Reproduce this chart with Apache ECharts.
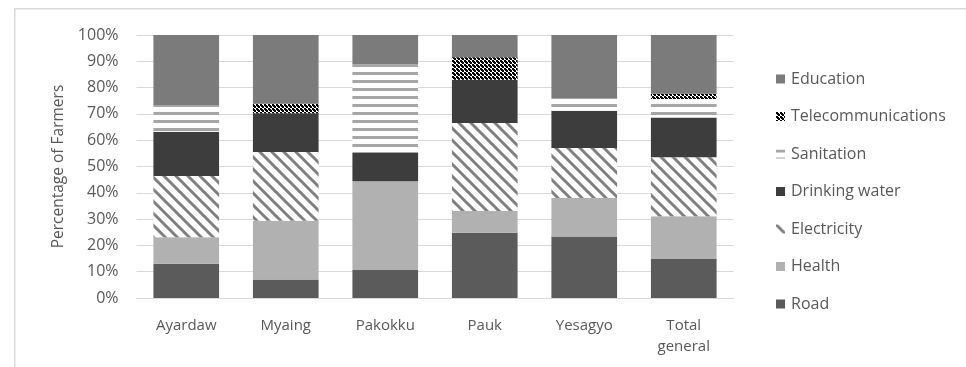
<!DOCTYPE html>
<html>
<head>
<meta charset="utf-8">
<script src="https://cdn.jsdelivr.net/npm/echarts@6/dist/echarts.min.js"></script>
<style>
  html, body { margin: 0; padding: 0; background: #fff; }
  #chart { width: 966px; height: 367px; }
</style>
</head>
<body>
<div id="chart"></div>
<script>
// Districts along the x axis
const categories = ['Ayardaw', 'Myaing', 'Pakokku', 'Pauk', 'Yesagyo', 'Total general'];

// Share of farmers (%) naming each infrastructure need, per district
const road            = [13.0, 7.0, 10.6, 24.8, 23.4, 14.8];
const health          = [10.1, 22.4, 33.8, 8.3, 14.6, 16.3];
const electricity     = [23.3, 26.1, 0, 33.4, 19.0, 22.4];
const drinkingWater   = [16.8, 14.7, 10.7, 16.5, 14.2, 15.1];
const sanitation      = [10.2, 0, 33.8, 0, 4.7, 7.1];
const telecom         = [0, 3.7, 0, 8.5, 0, 2.0];
const education       = [26.6, 26.1, 11.1, 8.5, 24.1, 22.3];

// Percentage axis ticks
const yTicks = [0, 10, 20, 30, 40, 50, 60, 70, 80, 90, 100];

// Fill patterns drawn on small canvases
function makeTile(w, h, draw) {
  const c = document.createElement('canvas');
  c.width = w; c.height = h;
  const ctx = c.getContext('2d');
  draw(ctx, w, h);
  return { image: c, repeat: 'repeat' };
}

// Wide downward diagonal stripes
const diagonalFill = makeTile(12, 12, (ctx, w, h) => {
  ctx.fillStyle = '#ffffff';
  ctx.fillRect(0, 0, w, h);
  ctx.strokeStyle = '#7f7f7f';
  ctx.lineWidth = 3;
  for (const c of [-12, 0, 12]) {
    ctx.beginPath();
    ctx.moveTo(-2, -2 + c);
    ctx.lineTo(14, 14 + c);
    ctx.stroke();
  }
});

// Horizontal stripes
const horizontalFill = makeTile(8, 8, (ctx, w, h) => {
  ctx.fillStyle = '#ffffff';
  ctx.fillRect(0, 0, w, h);
  ctx.fillStyle = '#a6a6a6';
  ctx.fillRect(0, 0, w, 3);
});

// Small checkerboard
const checkerFill = makeTile(4, 4, (ctx, w, h) => {
  ctx.fillStyle = '#ffffff';
  ctx.fillRect(0, 0, w, h);
  ctx.fillStyle = '#000000';
  ctx.fillRect(0, 0, 2, 2);
  ctx.fillRect(2, 2, 2, 2);
  ctx.fillRect(1, 1, 2, 2);
});

const seriesDefs = [
  { name: 'Road', data: road, color: '#5b5b5b' },
  { name: 'Health', data: health, color: '#b1b1b1' },
  { name: 'Electricity', data: electricity, color: diagonalFill },
  { name: 'Drinking water', data: drinkingWater, color: '#3d3d3d' },
  { name: 'Sanitation', data: sanitation, color: horizontalFill },
  { name: 'Telecommunications', data: telecom, color: checkerFill },
  { name: 'Education', data: education, color: '#7b7b7b' }
];

const textColor = '#595959';
const fontFamily = '"Open Sans", "Liberation Sans", sans-serif';

const chart = echarts.init(document.getElementById('chart'), null, { renderer: 'canvas' });

chart.setOption({
  animation: false,
  backgroundColor: '#ffffff',
  graphic: [{
    type: 'rect',
    shape: { x: 14.75, y: 8.75, width: 1000, height: 400 },
    style: { fill: 'none', stroke: '#d9d9d9', lineWidth: 1.5 },
    silent: true
  }],
  grid: { left: 136.5, right: 232.5, top: 35, bottom: 69 },
  legend: {
    orient: 'vertical',
    left: 771,
    top: 64,
    itemWidth: 9,
    itemHeight: 9,
    itemGap: 17.5,
    icon: 'rect',
    data: seriesDefs.map(s => s.name).reverse(),
    textStyle: { color: textColor, fontSize: 16, fontFamily: fontFamily, lineHeight: 20, padding: [0, 0, 0, 1] }
  },
  xAxis: {
    type: 'category',
    data: categories,
    axisLine: { show: true, lineStyle: { color: '#d9d9d9', width: 1 } },
    axisTick: { show: false },
    axisLabel: {
      color: textColor,
      fontSize: 15,
      fontFamily: fontFamily,
      margin: 17,
      lineHeight: 21,
      interval: 0,
      formatter: v => v.replace(' ', '\n')
    }
  },
  yAxis: {
    type: 'value',
    min: yTicks[0],
    max: yTicks[yTicks.length - 1],
    interval: yTicks[1] - yTicks[0],
    name: 'Percentage of Farmers',
    nameLocation: 'middle',
    nameRotate: 90,
    nameGap: 70,
    nameTextStyle: { color: textColor, fontSize: 15.5, fontFamily: fontFamily },
    axisLine: { show: false },
    axisTick: { show: false },
    splitLine: { lineStyle: { color: '#d9d9d9', width: 1 } },
    axisLabel: {
      color: textColor,
      fontSize: 16,
      fontFamily: fontFamily,
      margin: 18,
      formatter: '{value}%'
    }
  },
  series: seriesDefs.map(s => ({
    name: s.name,
    type: 'bar',
    stack: 'total',
    data: s.data,
    barCategoryGap: '34%',
    itemStyle: { color: s.color }
  }))
});
</script>
</body>
</html>
